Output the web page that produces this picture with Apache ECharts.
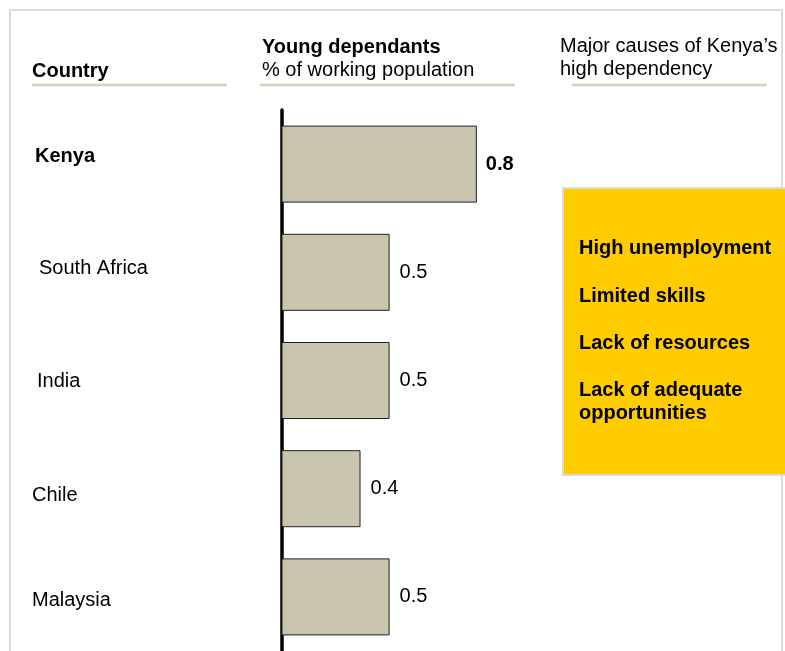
<!DOCTYPE html>
<html>
<head>
<meta charset="utf-8">
<script src="https://cdn.jsdelivr.net/npm/echarts@6/dist/echarts.min.js"></script>
<style>
html,body{margin:0;padding:0;background:#fff;}
#chart{width:785px;height:651px;}
</style>
</head>
<body>
<div id="chart"></div>
<script>
// ---- data ----
var countries = ['Kenya', 'South Africa', 'India', 'Chile', 'Malaysia'];
var youngDependants = [0.8, 0.5, 0.5, 0.4, 0.5];
var headerCountry = 'Country';
var headerMetricTitle = 'Young dependants';
var headerMetricUnit = '% of working population';
var headerCausesLines = ['Major causes of Kenya\u2019s', 'high dependency'];
var causes = ['High unemployment', 'Limited skills', 'Lack of resources', 'Lack of adequate\nopportunities'];

// ---- styling helpers (positions/styles only) ----
var FONT = '"Liberation Sans", Arial, Helvetica, sans-serif';
var FS = 20;
var labelShift = [ // [padTop, padBottom, padLeft] per category row
  [0, 15, 3], [0, 8, 7], [1, 0, 5], [14, 0, 0], [8, 0, 0]
];
var rich = {};
countries.forEach(function (c, i) {
  var s = labelShift[i];
  rich['c' + i] = {
    fontFamily: FONT, fontSize: FS, color: '#000',
    fontWeight: i === 0 ? 'bold' : 'normal',
    padding: [s[0], 0, s[1], s[2]]
  };
});

var chart = echarts.init(document.getElementById('chart'));

function txt(text, x, y, bold, extra) {
  var o = {
    type: 'text', z: 10,
    style: {
      text: text, x: x, y: y,
      font: (bold ? 'bold ' : '') + FS + 'px ' + FONT,
      fill: '#000',
      textAlign: 'left', textVerticalAlign: 'middle',
      align: 'left', verticalAlign: 'middle'
    }
  };
  if (extra) { for (var k in extra) o.style[k] = extra[k]; }
  return o;
}
function hline(x1, x2, y) {
  return { type: 'line', z: 5, shape: { x1: x1, y1: y, x2: x2, y2: y },
    style: { stroke: '#D3D0BC', lineWidth: 2.5 } };
}

var graphics = [
  { type: 'rect', z: 1, shape: { x: 10, y: 10, width: 772, height: 700 },
    style: { fill: 'none', stroke: '#DCDCDC', lineWidth: 2 } },
  txt(headerCountry, 32, 71, true),
  txt(headerMetricTitle, 262, 47, true),
  txt(headerMetricUnit, 262, 70, false),
  txt(headerCausesLines[0], 560, 46, false),
  txt(headerCausesLines[1], 560, 69, false),
  hline(32, 227, 85),
  hline(260, 515, 85),
  hline(572, 767, 85),
  { type: 'rect', z: 20, shape: { x: 563, y: 188, width: 240, height: 287 },
    style: { fill: '#FFCC00', stroke: '#DADADA', lineWidth: 2 } }
];
var causeY = [248, 296, 343, 391];
causes.forEach(function (c, i) {
  var t = txt(c, 579, causeY[i], true, { lineHeight: 23 });
  t.z = 30;
  if (c.indexOf('\n') >= 0) { t.style.verticalAlign = 'top'; t.style.textVerticalAlign = 'top'; t.style.y = causeY[i] - 12; }
  graphics.push(t);
});

var option = {
  animation: false,
  backgroundColor: '#ffffff',
  grid: { left: 282, top: 110, width: 253, height: 541, containLabel: false },
  xAxis: {
    type: 'value', min: 0.13, max: 1.0,
    show: false, splitLine: { show: false }
  },
  yAxis: {
    type: 'category', inverse: true, data: countries,
    axisLine: { show: true, lineStyle: { color: '#000', width: 3.5 } },
    axisTick: { show: false },
    splitLine: { show: false },
    axisLabel: {
      align: 'left', margin: 250,
      formatter: function (v, i) { return '{c' + i + '|' + v + '}'; },
      rich: rich
    }
  },
  series: [{
    type: 'bar',
    data: youngDependants.map(function (v, i) {
      return {
        value: v,
        label: { fontWeight: i === 0 ? 'bold' : 'normal', distance: i === 0 ? 9 : 10 }
      };
    }),
    barWidth: 77,
    itemStyle: { color: '#C9C5AE', borderColor: '#222', borderWidth: 1 },
    label: {
      show: true, position: 'right', distance: 10,
      fontFamily: FONT, fontSize: FS, color: '#000',
      formatter: function (p) { return p.value.toFixed(1); }
    },
    z: 3
  }],
  graphic: graphics
};
chart.setOption(option);
</script>
</body>
</html>
